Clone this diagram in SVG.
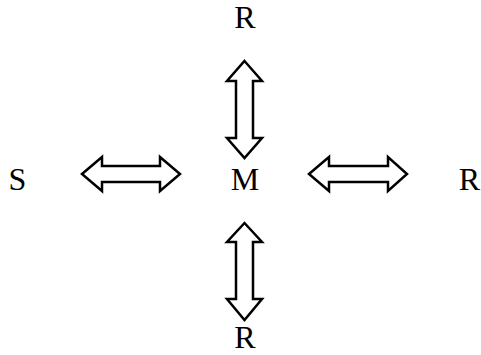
<svg xmlns="http://www.w3.org/2000/svg" width="481" height="355" viewBox="0 0 481 355">
<style>
text{font-family:"Liberation Serif","Times New Roman",serif;font-size:32px;fill:#000;text-anchor:middle}
.a{fill:#fff;stroke:#000;stroke-width:2.5;stroke-linejoin:miter}
</style>
<rect width="481" height="355" fill="#fff"/>
<g id="connectors">
<path class="a" d="M244.5,61 L262,81 L253,81 L253,138 L262,138 L244.5,158 L227,138 L236,138 L236,81 L227,81 Z"/>
<path class="a" d="M244.5,223 L262,242 L253,242 L253,299 L262,299 L244.5,320 L227,299 L236,299 L236,242 L227,242 Z"/>
<path class="a" d="M82,174 L102,157 L102,166 L160,166 L160,157 L180,174 L160,191 L160,182 L102,182 L102,191 Z"/>
<path class="a" d="M309,174 L329,157 L329,166 L388,166 L388,157 L407,174 L388,191 L388,182 L329,182 L329,191 Z"/>
</g>
<g id="node-M"><text x="245" y="190">M</text></g>
<g id="node-R-top"><text x="245" y="27.5">R</text></g>
<g id="node-R-bottom"><text x="245" y="348">R</text></g>
<g id="node-S"><text x="17.5" y="189.5">S</text></g>
<g id="node-R-right"><text x="469.5" y="189.5">R</text></g>
</svg>
